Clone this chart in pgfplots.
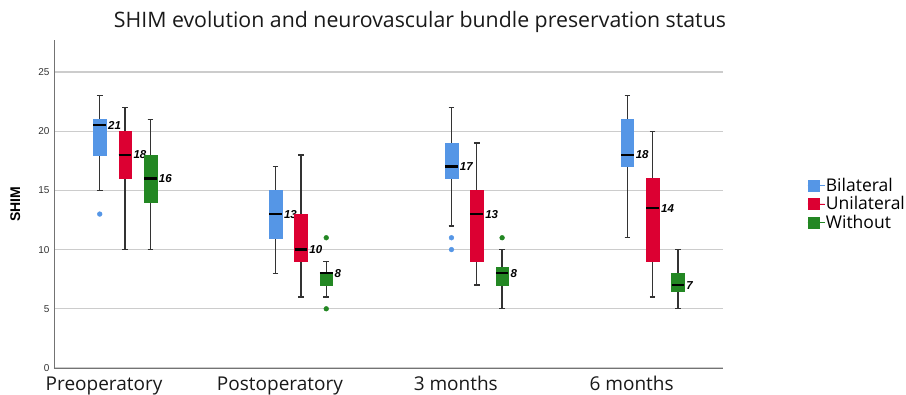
\documentclass[border=0pt]{standalone}
\usepackage{pgfplots}
\pgfplotsset{compat=1.18}
\usepgfplotslibrary{statistics}
\usepackage{fontspec}
\setmainfont{Liberation Sans}
\newfontfamily\osans{Open Sans}
\definecolor{cblue}{RGB}{85,150,230}
\definecolor{cred}{RGB}{220,0,50}
\definecolor{cgreen}{RGB}{35,135,35}
% color, pos, lower whisker, lower quartile, median, upper quartile, upper whisker, label, outliers
\newcommand{\bx}[9]{%
  \addplot+[draw=#1, fill=#1, solid, mark=*, mark size=2.4pt, mark options={solid, fill=#1, draw=#1},
    boxplot prepared={draw direction=y, draw position=#2, lower whisker=#3, lower quartile=#4,
      median=#5, upper quartile=#6, upper whisker=#7}] coordinates {#9};
  \node[anchor=west, inner sep=0.5pt, xshift=7.8pt, font=\bfseries\itshape\fontsize{11.5}{11.5}\selectfont] at (axis cs:#2,#5) {#8};
}
\begin{document}
\begin{tikzpicture}
\begin{axis}[
  scale only axis, width=669pt, height=328pt,
  xmin=0.596, xmax=4.40, ymin=0, ymax=27.7, clip=false,
  axis lines*=left, axis line style={-, draw=black!55, line width=0.9pt},
  xtick={1,2,3,4}, xticklabels={Preoperatory,Postoperatory,3 months,6 months},
  xticklabel style={font=\osans\fontsize{19}{19}\selectfont, xshift=-21pt, yshift=-5pt, text=black!90},
  ytick={0,5,...,25}, ymajorgrids,
  /pgf/number format/assume math mode=true,
  major grid style={draw=black!20, line width=1.2pt},
  major tick length=0pt,
  yticklabel style={font=\fontsize{10}{10}\selectfont, text=black!80, xshift=-1pt},
  ylabel={SHIM},
  every axis y label/.style={at={(axis description cs:-0.058,0.5)}, rotate=90, anchor=center, font=\bfseries\fontsize{14}{14}\selectfont},
  boxplot/draw direction=y,
  boxplot/box extend=0.072, boxplot/whisker extend=0.032,
  boxplot/every whisker/.style={draw=black!80, line width=1.3pt},
  boxplot/every median/.style={draw=black, line width=2.4pt},
  legend style={at={(1.126,0.5)}, anchor=west, draw=none, fill=none,
    font=\osans\fontsize{17.5}{19}\selectfont, row sep=1.5pt, inner sep=0pt,
    nodes={inner sep=1pt}},
  legend image code/.code={\fill[#1] (0pt,-5.5pt) rectangle (11pt,5.5pt); \path (0pt,0pt) -- (17pt,0pt);},
  legend cell align=left,
]
\addlegendimage{fill=cblue, draw=cblue}\addlegendentry{Bilateral}
\addlegendimage{fill=cred, draw=cred}\addlegendentry{Unilateral}
\addlegendimage{fill=cgreen, draw=cgreen}\addlegendentry{Without}
% Preoperatory
\bx{cblue}{0.856}{15}{18}{20.5}{21}{23}{21}{(0,13)}
\bx{cred}{1}{10}{16}{18}{20}{22}{18}{}
\bx{cgreen}{1.144}{10}{14}{16}{18}{21}{16}{}
% Postoperatory
\bx{cblue}{1.856}{8}{11}{13}{15}{17}{13}{}
\bx{cred}{2}{6}{9}{10}{13}{18}{10}{}
\bx{cgreen}{2.144}{6}{7}{8}{8}{9}{8}{(0,11) (0,5)}
% 3 months
\bx{cblue}{2.856}{12}{16}{17}{19}{22}{17}{(0,11) (0,10)}
\bx{cred}{3}{7}{9}{13}{15}{19}{13}{}
\bx{cgreen}{3.144}{5}{7}{8}{8.5}{10}{8}{(0,11)}
% 6 months
\bx{cblue}{3.856}{11}{17}{18}{21}{23}{18}{}
\bx{cred}{4}{6}{9}{13.5}{16}{20}{14}{}
\bx{cgreen}{4.144}{5}{6.5}{7}{8}{10}{7}{}
\node[font=\osans\fontsize{21.3}{21.3}\selectfont, text=black!90] at (rel axis cs:0.547,1.055) {SHIM evolution and neurovascular bundle preservation status};
\coordinate (bl) at (rel axis cs:0,0);
\end{axis}
\pgfresetboundingbox
\path[use as bounding box] (bl) ++(-54pt,-27pt) rectangle ++(906pt,395pt);
\end{tikzpicture}
\end{document}
